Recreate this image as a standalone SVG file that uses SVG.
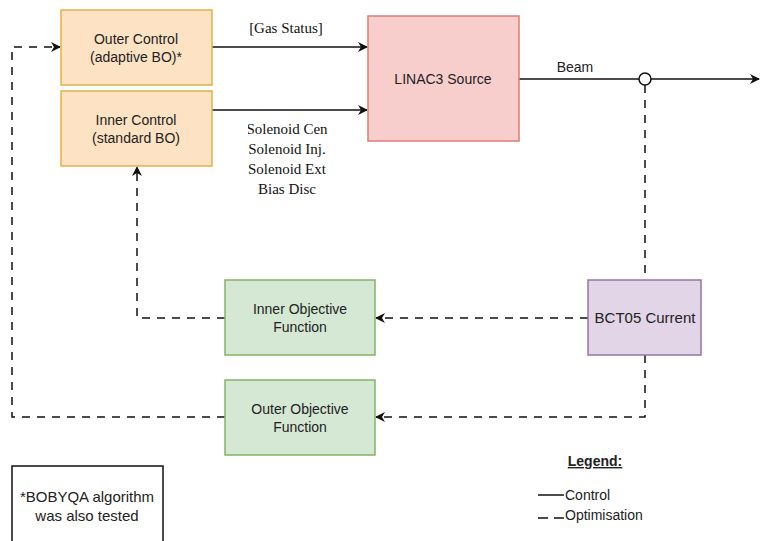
<svg xmlns="http://www.w3.org/2000/svg" width="760" height="541" viewBox="0 0 760 541">
<style>
.t{font-family:"Liberation Sans",Arial,sans-serif;font-size:14px;fill:#222;text-anchor:middle}
.s{font-family:"Liberation Serif","DejaVu Serif",serif;font-size:15px;fill:#111;text-anchor:middle}
.ctl{fill:#fde2c4;stroke:#e6b04a;stroke-width:1.5}
.obj{fill:#d5e8d4;stroke:#82b366;stroke-width:1.5}
.c{fill:none;stroke:#111;stroke-width:1.5}
.d{fill:none;stroke:#111;stroke-width:1.5;stroke-dasharray:8 7}
</style>
<defs>
<marker id="a2" viewBox="0 0 10 10" refX="9" refY="5" markerWidth="10" markerHeight="10" markerUnits="userSpaceOnUse" orient="auto">
<path d="M0,0 L10,5 L0,10 L3,5 Z" fill="#111"/>
</marker>
<clipPath id="clip"><rect x="248" y="115" width="79" height="85"/></clipPath>
</defs>
<rect width="760" height="541" fill="#fff"/>
<g id="connectors">
<path class="c" d="M212,47 H367" marker-end="url(#a2)"/>
<path class="c" d="M212,110 H367" marker-end="url(#a2)"/>
<path class="c" d="M519,79 H639"/>
<path class="c" d="M651,79 H759" marker-end="url(#a2)"/>
<circle cx="645" cy="79" r="6" fill="#fff" stroke="#111" stroke-width="1.5"/>
<path class="d" d="M645,85 V280"/>
<path class="d" d="M588,318 H376" marker-end="url(#a2)"/>
<path class="d" d="M645,355 V417 H376" marker-end="url(#a2)"/>
<path class="d" d="M225,318 H137 V167" marker-end="url(#a2)"/>
<path class="d" d="M225,417 H12 V47 H60" marker-end="url(#a2)"/>
<text class="s" x="286" y="33">[Gas Status]</text>
<g clip-path="url(#clip)">
<text class="s" x="287" y="134">Solenoid Cen</text>
<text class="s" x="287" y="154">Solenoid Inj.</text>
<text class="s" x="287" y="174">Solenoid Ext</text>
<text class="s" x="287" y="194">Bias Disc</text>
</g>
<text class="t" x="575" y="72">Beam</text>
</g>
<g id="outer-control">
<rect class="ctl" x="61" y="10" width="151" height="75"/>
<text class="t" x="136" y="44">Outer Control</text>
<text class="t" x="136" y="62">(adaptive BO)*</text>
</g>
<g id="inner-control">
<rect class="ctl" x="61" y="91" width="151" height="75"/>
<text class="t" x="136" y="125">Inner Control</text>
<text class="t" x="136" y="143">(standard BO)</text>
</g>
<g id="linac3">
<rect x="368" y="16" width="151" height="125" fill="#f8cecc" stroke="#e07b78" stroke-width="1.5"/>
<text class="t" x="443" y="84">LINAC3 Source</text>
</g>
<g id="bct05">
<rect x="588" y="280" width="113" height="75" fill="#e1d5e7" stroke="#9673a6" stroke-width="1.5"/>
<text class="t" x="645" y="323" style="font-size:15px">BCT05 Current</text>
</g>
<g id="inner-objective">
<rect class="obj" x="225" y="280" width="150" height="75"/>
<text class="t" x="300" y="314">Inner Objective</text>
<text class="t" x="300" y="332">Function</text>
</g>
<g id="outer-objective">
<rect class="obj" x="225" y="380" width="150" height="75"/>
<text class="t" x="300" y="414">Outer Objective</text>
<text class="t" x="300" y="432">Function</text>
</g>
<g id="footnote">
<rect x="12" y="466" width="151" height="90" fill="#fff" stroke="#111" stroke-width="1.5"/>
<text class="t" x="87" y="502" style="font-size:15px">*BOBYQA algorithm</text>
<text class="t" x="87" y="521" style="font-size:15px">was also tested</text>
</g>
<g id="legend">
<text class="t" x="595" y="466" style="font-weight:bold;text-decoration:underline">Legend:</text>
<path class="c" d="M538,495 H564"/>
<text class="t" x="565" y="500" style="text-anchor:start">Control</text>
<path class="c" d="M538,518 H564" style="stroke-dasharray:10 6"/>
<text class="t" x="565" y="520" style="text-anchor:start">Optimisation</text>
</g>
</svg>
